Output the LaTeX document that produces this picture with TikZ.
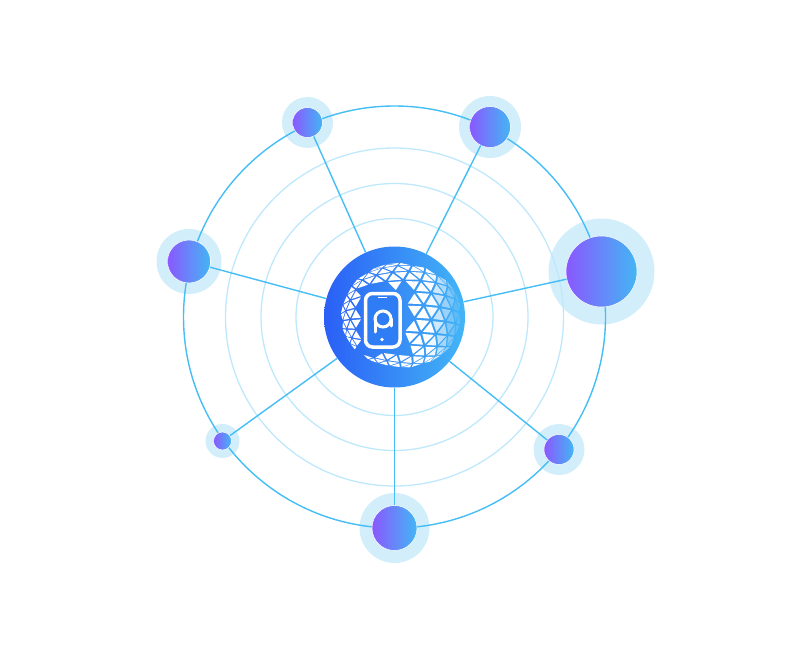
\documentclass[tikz,border=0pt]{standalone}
\usetikzlibrary{calc}
\definecolor{linecol}{HTML}{45BDF5}
\definecolor{ringcol}{HTML}{BEE8FB}
\definecolor{halocol}{HTML}{D2EEFB}
\definecolor{hubL}{HTML}{2A5FF6}
\definecolor{hubR}{HTML}{43B6F6}
\definecolor{satL}{HTML}{8A58FF}
\definecolor{satR}{HTML}{43B6F4}
\definecolor{phonefill}{HTML}{2F7DF5}
\tikzset{
  ringline/.style={circle,draw=ringcol,line width=1.3pt,inner sep=0pt},
  orbitline/.style={circle,draw=linecol,line width=1.4pt,inner sep=0pt},
  halo/.style={circle,fill=halocol,inner sep=0pt},
  sat/.style={circle,left color=satL,right color=satR,inner sep=0pt,draw=white,line width=0.5pt},
  hubnode/.style={circle,left color=hubL,right color=hubR,inner sep=0pt},
  link/.style={draw=linecol,line width=1.4pt},
  phoneline/.style={draw=white,line cap=round},
}
\newcommand\meshvertex[2]{%
  \pgfmathsetmacro\uu{17.5*(#1+#2/2)}%
  \pgfmathsetmacro\vv{17.5*0.866*#2}%
  \pgfmathsetmacro\th{max(veclen(\uu,\vv),0.01)}%
  \pgfmathsetmacro\sx{sin(\th)*\uu/\th}%
  \pgfmathsetmacro\sy{sin(\th)*\vv/\th}%
  \pgfmathsetmacro\sz{cos(\th)}%
  \pgfmathsetmacro\xa{\sx*cos(22)+\sz*sin(22)}%
  \pgfmathsetmacro\za{-\sx*sin(22)+\sz*cos(22)}%
  \pgfmathsetmacro\ya{\sy*cos(12)+\za*sin(12)}%
  \pgfmathsetmacro\zb{-\sy*sin(12)+\za*cos(12)}%
  \pgfmathsetmacro\px{401+61*\xa}%
  \pgfmathsetmacro\py{315.5-53*\ya}%
  \expandafter\xdef\csname mx#1:#2\endcsname{\px}%
  \expandafter\xdef\csname my#1:#2\endcsname{\py}%
  \expandafter\xdef\csname mz#1:#2\endcsname{\zb}%
}
\newcommand\meshtri[6]{%
  \edef\ax{\csname mx#1:#2\endcsname}\edef\ay{\csname my#1:#2\endcsname}\edef\az{\csname mz#1:#2\endcsname}%
  \edef\bx{\csname mx#3:#4\endcsname}\edef\by{\csname my#3:#4\endcsname}\edef\bz{\csname mz#3:#4\endcsname}%
  \edef\cx{\csname mx#5:#6\endcsname}\edef\cy{\csname my#5:#6\endcsname}\edef\cz{\csname mz#5:#6\endcsname}%
  \pgfmathsetmacro\visible{min(\az,\bz,\cz)>0.03 ? 1 : 0}%
  \ifdim\visible pt>0.5pt
    \pgfmathsetmacro\gx{(\ax+\bx+\cx)/3}%
    \pgfmathsetmacro\gy{(\ay+\by+\cy)/3}%
    \pgfmathsetmacro\hide{(\gx>358 && \gx<408 && \gy>286 && \gy<354) ? 1 : 0}%
    \ifdim\hide pt<0.5pt
      \pgfmathsetmacro\op{\gx>430 ? max(0.15,1-(\gx-430)/30) : 1}%
      \fill[white,fill opacity=\op]
        ($(\gx,\gy)!0.76!(\ax,\ay)$) -- ($(\gx,\gy)!0.76!(\bx,\by)$) -- ($(\gx,\gy)!0.76!(\cx,\cy)$) -- cycle;
    \fi
  \fi
}
\begin{document}
\begin{tikzpicture}[x=1pt,y=-1pt]
\useasboundingbox (0,0) rectangle (810,660);
% halos
\node[halo,minimum size=51pt] (h1) at (307.5,122.5) {};
\node[halo,minimum size=62pt] (h2) at (490,127) {};
\node[halo,minimum size=106pt] (h3) at (601.5,271.5) {};
\node[halo,minimum size=65pt] (h4) at (189,261.5) {};
\node[halo,minimum size=34pt] (h5) at (222.5,441) {};
\node[halo,minimum size=70pt] (h6) at (394.5,528) {};
\node[halo,minimum size=51pt] (h7) at (559,449.5) {};
% rings
\node[ringline,minimum size=197pt] (r1) at (394.5,317) {};
\node[ringline,minimum size=267pt] (r2) at (394.5,317) {};
\node[ringline,minimum size=338pt] (r3) at (394.5,317) {};
\node[orbitline,minimum size=422pt] (orbit) at (394.5,317) {};
% hub and satellites
\node[hubnode,minimum size=141pt] (hub) at (394.5,317) {};
\node[sat,minimum size=30pt] (n1) at (307.5,122.5) {};
\node[sat,minimum size=41pt] (n2) at (490,127) {};
\node[sat,minimum size=71pt] (n3) at (601.5,271.5) {};
\node[sat,minimum size=43pt] (n4) at (189,261.5) {};
\node[sat,minimum size=18pt] (n5) at (222.5,441) {};
\node[sat,minimum size=45pt] (n6) at (394.5,528) {};
\node[sat,minimum size=30pt] (n7) at (559,449.5) {};
% connectors
\foreach \t in {n1,n2,n3,n4,n5,n6,n7}{\draw[link] (hub) -- (\t);}
% sphere mesh
\foreach \j in {-8,...,8}{\foreach \i in {-9,...,10}{\meshvertex{\i}{\j}}}
\foreach \j [evaluate=\j as \jn using int(\j+1)] in {-8,...,7}{
  \foreach \i [evaluate=\i as \inx using int(\i+1)] in {-9,...,9}{
    \meshtri{\i}{\j}{\inx}{\j}{\i}{\jn}
    \meshtri{\inx}{\j}{\inx}{\jn}{\i}{\jn}
  }
}
% phone
\draw[draw=white,fill=phonefill,line width=3.5pt,rounded corners=7pt] (365.5,293.5) rectangle (400,347);
\draw[phoneline,line width=1.2pt] (378.5,297.5) -- (386.5,297.5);
\fill[white] (382,339.5) circle (1.9pt);
\draw[phoneline,line width=3pt] (383,319) circle (8pt);
\draw[phoneline,line width=3pt] (375,319) -- (375,332);
\draw[phoneline,line width=3pt] (391,319) -- (391,326);
\end{tikzpicture}
\end{document}
